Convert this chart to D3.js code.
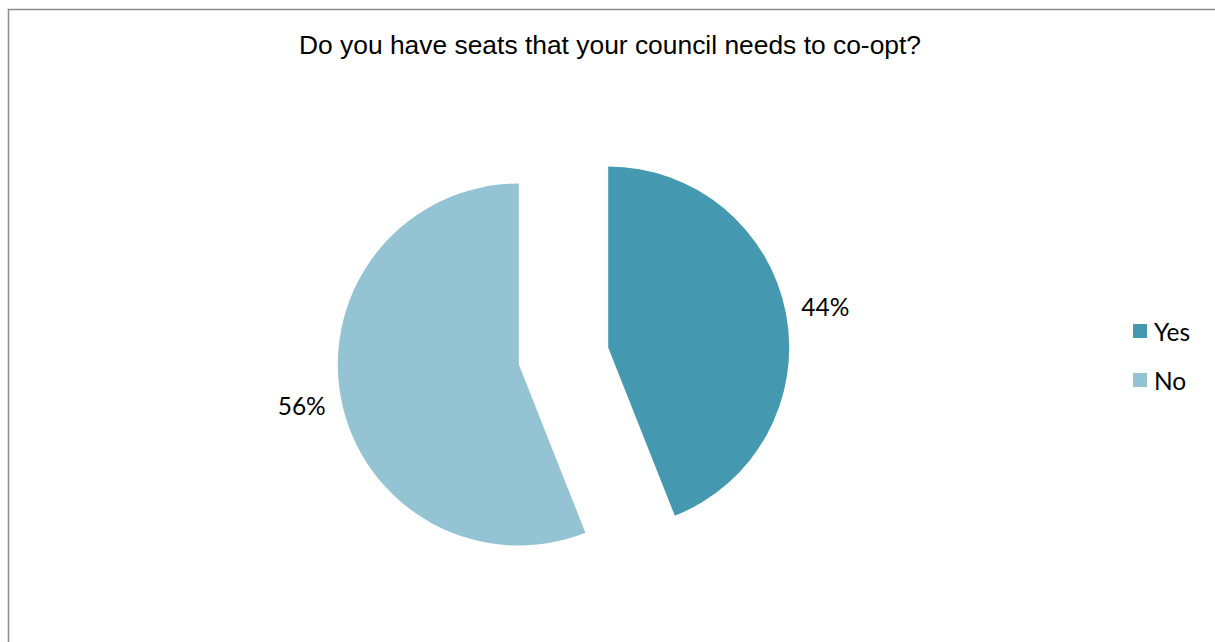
<!DOCTYPE html>
<html><head><meta charset="utf-8">
<script src="https://cdn.jsdelivr.net/npm/d3@7"></script>
<style>html,body{margin:0;padding:0;background:#fff;}</style>
</head><body>
<script>
const categories = ["Yes", "No"];
const values = [44, 56];
const colors = ["#4499B0", "#94C3D4"];
const title = "Do you have seats that your council needs to co-opt?";

const W = 1215, H = 642;
const svg = d3.select("body").append("svg").attr("width", W).attr("height", H);

svg.append("rect").attr("x", 8.5).attr("y", 9.5).attr("width", W + 10).attr("height", H + 10)
  .attr("fill", "#fff").attr("stroke", "#8a8a8a").attr("stroke-width", 1.5);

svg.append("text").attr("x", 610).attr("y", 54).attr("text-anchor", "middle")
  .attr("font-family", "Liberation Sans, Arial, sans-serif").attr("font-size", 26.4)
  .attr("fill", "#000").text(title);

const cx = 563.5, cy = 356, r = 181, explode = 45.5, labelR = 221;
const data = categories.map((c, i) => ({cat: c, value: values[i], color: colors[i]}));
const pie = d3.pie().value(d => d.value).sort(null);
const arc = d3.arc().innerRadius(0).outerRadius(r);
const arcs = pie(data);
const g = svg.append("g").attr("transform", `translate(${cx},${cy})`);

const labelFont = "Lato, Carlito, Open Sans, sans-serif";
arcs.forEach(a => {
  const mid = (a.startAngle + a.endAngle) / 2;
  const dx = Math.sin(mid) * explode, dy = -Math.cos(mid) * explode;
  const sg = g.append("g").attr("transform", `translate(${dx},${dy})`);
  sg.append("path").attr("d", arc(a)).attr("fill", a.data.color);
  const pct = Math.round(a.value / d3.sum(values) * 100) + "%";
  sg.append("text").attr("x", Math.sin(mid) * labelR).attr("y", -Math.cos(mid) * labelR)
    .attr("text-anchor", "middle").attr("dominant-baseline", "central")
    .attr("font-family", labelFont).attr("font-size", 24.5)
    .attr("fill", "#000").text(pct);
});

const leg = svg.append("g");
categories.forEach((c, i) => {
  const y = 331 + i * 49;
  leg.append("rect").attr("x", 1133).attr("y", y - 7).attr("width", 14).attr("height", 14).attr("fill", colors[i]);
  leg.append("text").attr("x", 1154).attr("y", y).attr("dominant-baseline", "central")
    .attr("font-family", labelFont).attr("font-size", 24.5)
    .attr("fill", "#000").text(c);
});
</script>
</body></html>
